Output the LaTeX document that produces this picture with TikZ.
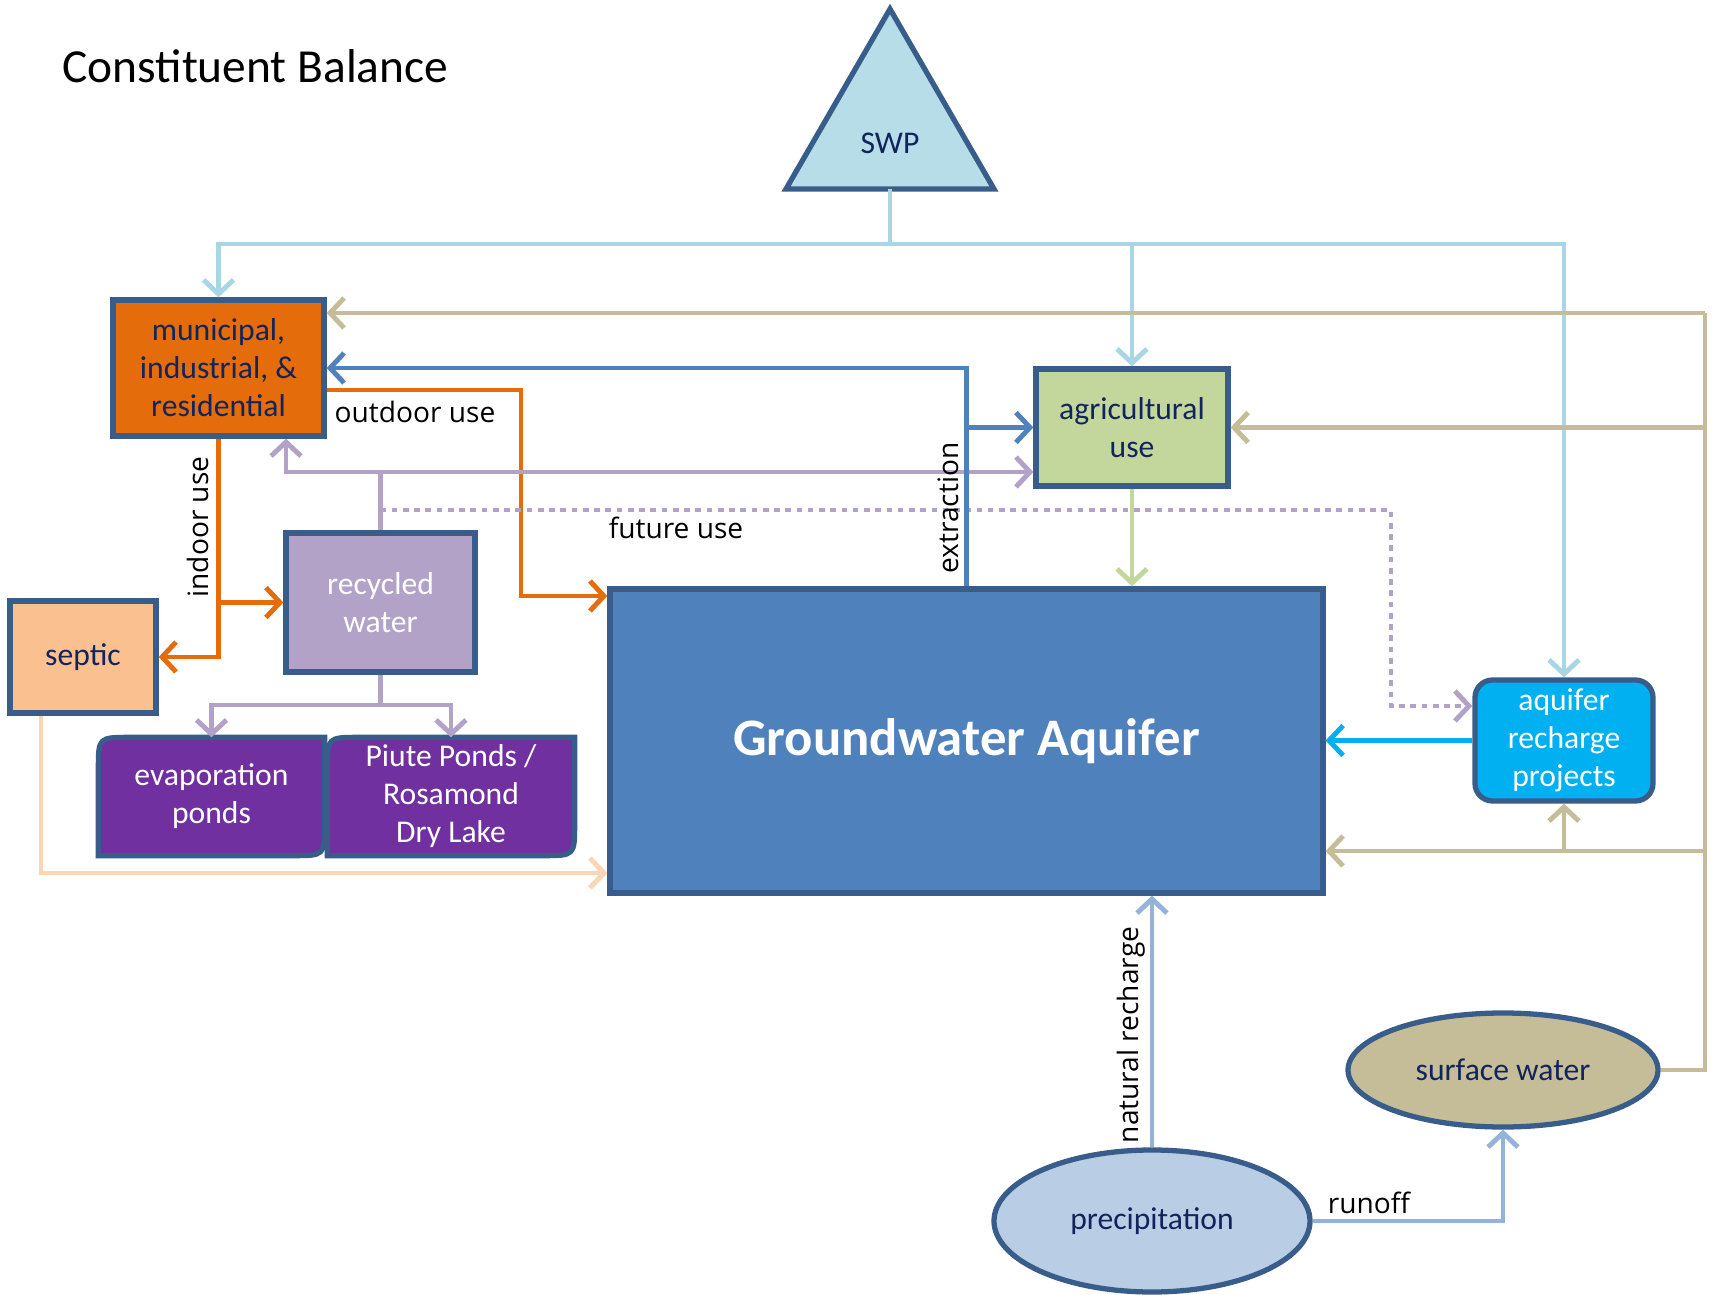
\documentclass[tikz,border=0pt]{standalone}
\usepackage{fontspec}
\setmainfont{Carlito}
\newfontfamily\labelfont{Open Sans}
\usetikzlibrary{arrows.meta,calc,backgrounds,shapes.geometric}

\definecolor{boxline}{RGB}{56,93,138}
\definecolor{navy}{RGB}{18,36,92}
\definecolor{munifill}{RGB}{228,108,10}
\definecolor{agfill}{RGB}{195,214,155}
\definecolor{recfill}{RGB}{179,162,199}
\definecolor{sepfill}{RGB}{250,192,144}
\definecolor{pondfill}{RGB}{112,48,160}
\definecolor{gwfill}{RGB}{79,129,189}
\definecolor{rchfill}{RGB}{0,176,240}
\definecolor{surffill}{RGB}{196,189,151}
\definecolor{precfill}{RGB}{185,205,229}
\definecolor{swpfill}{RGB}{183,222,232}
\definecolor{swpline}{RGB}{168,214,228}
\definecolor{precline}{RGB}{149,179,215}
\definecolor{sepline}{RGB}{252,213,181}

\begin{document}
\begin{tikzpicture}[x=0.1mm,y=-0.1mm]
\tikzset{box/.style = {draw=boxline, line width=1.5pt, inner sep=0pt, align=center, font=\fontsize{9}{10.8}\selectfont}}
\tikzset{pondbox/.style = {fill=pondfill, draw=boxline, line width=1.5pt}}
\tikzset{flow/.style = {line width=1.4pt, -{Straight Barb[length=4pt,width=8.5pt]}}}
\tikzset{lbl/.style = {font=\labelfont\fontsize{8}{9.6}\selectfont, inner sep=1pt}}
\useasboundingbox (0,0) rectangle (1721,1295);

\node[anchor=west, font=\fontsize{13.5}{16}\selectfont] (title) at (50,66) {Constituent Balance};

% SWP
\filldraw[fill=swpfill, draw=boxline, line width=1.5pt] (890,9) -- (994,189) -- (786,189) -- cycle;
\node[text=navy, font=\fontsize{9}{10.8}\selectfont] (swp) at (890,143) {SWP};
\coordinate (swpb) at (890,189);

% vertices
\node[box, fill=munifill, text=navy, minimum width=21.1mm, minimum height=13.6mm] (muni) at (218.5,368) {municipal,\\industrial, \&\\residential};
\node[box, fill=agfill, text=navy, minimum width=19.2mm, minimum height=11.7mm] (agri) at (1132,427.5) {agricultural\\use};
\node[box, fill=recfill, text=white, minimum width=18.9mm, minimum height=13.9mm] (recyc) at (380.5,602.5) {recycled\\water};
\node[box, fill=sepfill, text=navy, minimum width=14.6mm, minimum height=11.2mm] (septic) at (83,657) {septic};
\node[box, draw=none, text=white, minimum width=22.1mm, minimum height=11.3mm] (evap) at (211.5,796.5) {evaporation\\ponds};
\node[box, draw=none, text=white, minimum width=24.2mm, minimum height=11.3mm] (piute) at (451,796.5) {Piute Ponds /\\Rosamond\\Dry Lake};
\node[box, fill=gwfill, text=white, minimum width=71.3mm, minimum height=30.4mm, font=\bfseries\fontsize{15}{18}\selectfont] (gw) at (966.5,741) {Groundwater Aquifer};
\node[box, fill=rchfill, text=white, rounded corners=5pt, minimum width=17.8mm, minimum height=12.1mm] (rech) at (1564,740.5) {aquifer\\recharge\\projects};
\node[box, ellipse, fill=surffill, text=navy, minimum width=31mm, minimum height=11.4mm] (surf) at (1503,1070) {surface water};
\node[box, ellipse, fill=precfill, text=navy, minimum width=31.6mm, minimum height=14.2mm] (precip) at (1152,1221) {precipitation};

\begin{pgfonlayer}{background}
\filldraw[pondbox] (evap.south west) -- ($(evap.north west)+(0,32)$) .. controls (evap.north west) .. ($(evap.north west)+(32,0)$) -- (evap.north east) -- ($(evap.south east)+(0,-32)$) .. controls (evap.south east) .. ($(evap.south east)+(-32,0)$) -- cycle;
\filldraw[pondbox] (piute.south west) -- ($(piute.north west)+(0,32)$) .. controls (piute.north west) .. ($(piute.north west)+(32,0)$) -- (piute.north east) -- ($(piute.south east)+(0,-32)$) .. controls (piute.south east) .. ($(piute.south east)+(-32,0)$) -- cycle;
\end{pgfonlayer}

% junctions
\coordinate (swpj) at (890,244);
\coordinate (tanx) at (1705,1070);
\coordinate (tanTop) at (1705,313);
\coordinate (tanGw) at (1705,851);
\coordinate (recJ) at (380.5,472);
\coordinate (recL) at (286,472);
\coordinate (recB) at (380.5,705);
\coordinate (futA) at (380.5,510);
\coordinate (futB) at (1391,706);
\coordinate (outA) at (521,390);
\coordinate (outB) at (521,596);
\coordinate (sepC) at (41,873);

%edges
\draw[line width=1.4pt, swpline] (swpb) -- (swpj);
\draw[flow, swpline] (swpj) -| (muni.north);
\draw[flow, swpline] (swpj) -| (agri.north);
\draw[flow, swpline] (swpj) -| (rech.north);

\draw[line width=1.4pt, surffill] (surf.east) -- (tanx) -- (tanTop);
\draw[flow, surffill] (tanTop) -- (tanTop -| muni.east);
\draw[flow, surffill] (tanx |- agri.east) -- (agri.east);
\draw[flow, surffill] (tanGw) -- (tanGw -| gw.east);
\draw[flow, surffill] (tanGw -| rech.south) -- (rech.south);

\draw[flow, munifill] (muni.south) |- (septic.east);
\draw[flow, munifill] (muni.south |- recyc.west) -- (recyc.west);
\draw[flow, munifill] (muni.east |- outA) -- (outA) -- (outB) -- (outB -| gw.west);

\draw[line width=1.4pt, recfill] (recyc.north) -- (recJ);
\draw[flow, recfill] (recJ) -- (recL) -- (recL |- muni.south);
\draw[flow, recfill] (recJ) -- (recJ -| agri.west);
\draw[flow, recfill, dash pattern=on 1.6pt off 1.6pt] (futA) -| (futB) -- (futB -| rech.west);
\draw[line width=1.4pt, recfill] (recyc.south) -- (recB);
\draw[flow, recfill] (recB) -| (evap.north);
\draw[flow, recfill] (recB) -| (piute.north);

\draw[flow, gwfill] (gw.north) |- (muni.east);
\draw[flow, gwfill] (gw.north |- agri.west) -- (agri.west);

\draw[flow, agfill] (agri.south) -- (agri.south |- gw.north);
\draw[flow, rchfill] (rech.west) -- (rech.west -| gw.east);
\draw[flow, sepline] (sepC |- septic.south) -- (sepC) -- (sepC -| gw.west);
\draw[flow, precline] (precip.north) -- (precip.north |- gw.south);
\draw[flow, precline] (precip.east) -| (surf.south);

% labels
\node[lbl] (outdoor) at (415,412) {outdoor use};
\node[lbl, rotate=90] (indoor) at (198,527) {indoor use};
\node[lbl] (future) at (676,528) {future use};
\node[lbl, rotate=90] (extr) at (948,508) {extraction};
\node[lbl, rotate=90] (natrech) at (1131,1035) {natural recharge};
\node[lbl] (runoff) at (1369,1203) {runoff};
\end{tikzpicture}
\end{document}
